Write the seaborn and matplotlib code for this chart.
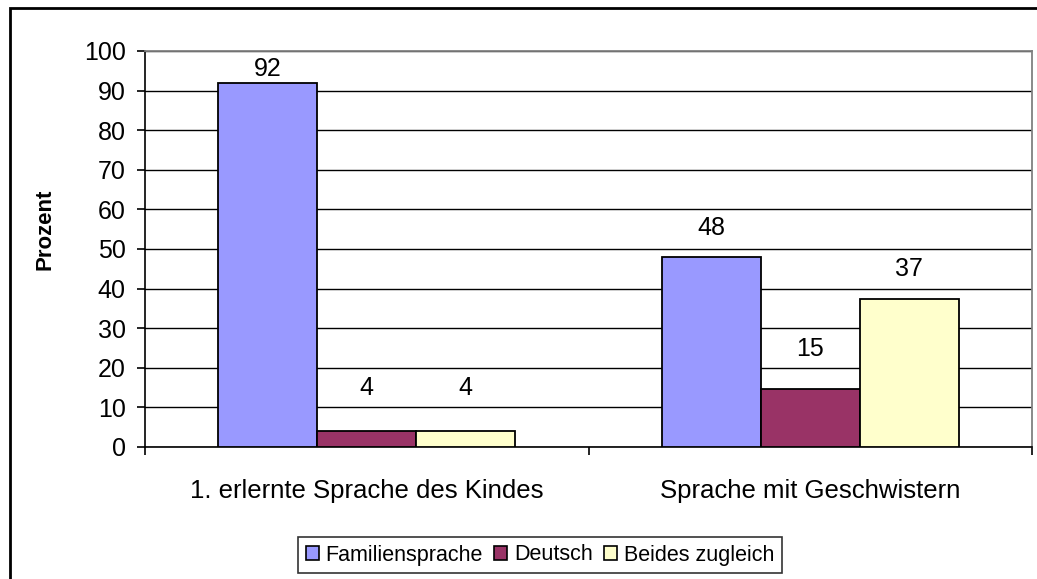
import matplotlib
matplotlib.use("Agg")
import matplotlib.pyplot as plt
import seaborn as sns
import pandas as pd
from matplotlib.patches import Rectangle

# data
categories = ["1. erlernte Sprache des Kindes", "Sprache mit Geschwistern"]
series = ["Familiensprache", "Deutsch", "Beides zugleich"]
familiensprache = [92, 48]
deutsch = [4, 14.6]
beides = [4, 37.4]
colors = ["#9999FF", "#993366", "#FFFFCC"]

# offsets (pixels) of the value labels above each bar, Excel-style placement
label_offsets = {"Familiensprache": [14, 29], "Deutsch": [43, 40], "Beides zugleich": [43, 30]}

df = pd.DataFrame({
    "Kategorie": categories * 3,
    "Serie": [s for s in series for _ in categories],
    "Prozent": familiensprache + deutsch + beides,
})

sns.set_style("white")
plt.rcParams["font.family"] = ["Liberation Sans", "DejaVu Sans"]
plt.rcParams["text.color"] = "black"
plt.rcParams["axes.labelcolor"] = "black"
plt.rcParams["xtick.color"] = "black"
plt.rcParams["ytick.color"] = "black"

fig = plt.figure(figsize=(10.37, 5.79), dpi=100)
ax = fig.add_axes([145 / 1037, 1 - 447 / 579, 887 / 1037, 396 / 579])

sns.barplot(data=df, x="Kategorie", y="Prozent", hue="Serie", hue_order=series,
            palette=colors, width=0.67, edgecolor="black", linewidth=1.3,
            saturation=1, ax=ax, zorder=3, legend=True)

# value labels
for cont, name in zip(ax.containers, series):
    for bar, off in zip(cont, label_offsets[name]):
        h = bar.get_height()
        ax.annotate(f"{h:.0f}", (bar.get_x() + bar.get_width() / 2, h),
                    xytext=(0, off), textcoords="offset pixels",
                    ha="center", va="center", fontsize=18)

ax.set_xlim(-0.5, 1.5)
ax.set_ylim(0, 100)
ax.set_yticks(range(0, 101, 10))
ax.tick_params(axis="y", which="major", direction="out", length=6, width=1.2,
               labelsize=18, pad=8, left=True)

# category ticks between groups, labels at the centres
ax.set_xticks([-0.5, 0.5, 1.5])
ax.set_xticklabels([])
ax.set_xticks([0, 1], minor=True)
ax.set_xticklabels(categories, minor=True)
ax.tick_params(axis="x", which="major", direction="out", length=6, width=1.2,
               bottom=True)
ax.tick_params(axis="x", which="minor", length=0, labelsize=18.5, pad=23)
ax.set_xlabel("")

ax.grid(axis="y", color="black", linewidth=1.0, zorder=0)
ax.grid(axis="x", visible=False)
ax.set_axisbelow(True)

for side in ["left", "bottom"]:
    ax.spines[side].set_color("black")
    ax.spines[side].set_linewidth(1.2)
for side in ["top", "right"]:
    ax.spines[side].set_color("#808080")
    ax.spines[side].set_linewidth(1.3)

ax.set_ylabel("Prozent", fontsize=16, fontweight="bold")
ax.yaxis.set_label_coords(-0.101, 0.55)

# legend
handles, labels = ax.get_legend_handles_labels()
ax.get_legend().remove()
leg = fig.legend(handles, labels, loc="center", bbox_to_anchor=(540 / 1037, 1 - 555 / 579),
                 ncol=3, fontsize=15.5, frameon=True, fancybox=False, edgecolor="black",
                 handlelength=0.6, handleheight=0.6, handletextpad=0.3,
                 columnspacing=0.55, borderpad=0.35, borderaxespad=0)
leg.get_frame().set_linewidth(1.2)
for h in leg.legend_handles:
    h.set_edgecolor("black")
    h.set_linewidth(1.2)

# chart area border (extends past right and bottom edge like the reference)
fig.patches.append(Rectangle((10 / 1037, -0.1), 1.2, 1 - 8 / 579 + 0.1,
                             transform=fig.transFigure, fill=False,
                             edgecolor="black", linewidth=2, zorder=0))

fig.savefig("out.png", dpi=100)
